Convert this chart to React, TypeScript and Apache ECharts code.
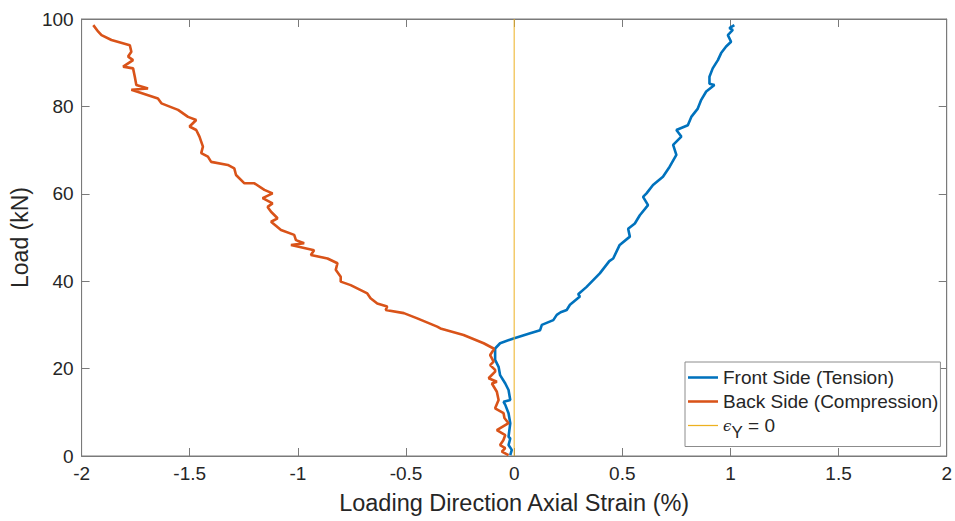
import React, { useEffect, useRef } from "react";
import * as echarts from "echarts";

const frontLoad = [0.2, 1.4, 2.5, 4.0, 4.4, 7.5, 9.8, 11.7, 12.4, 12.8, 15.1, 16.6, 18.5, 20.4, 22.0, 24.6, 25.8, 26.9, 28.1, 28.8, 30.0, 31.1, 32.3, 32.9, 33.4, 34.6, 36.5, 37.0, 38.7, 41.8, 44.6, 45.2, 48.3, 50.2, 52.0, 53.2, 55.1, 57.4, 59.3, 60.1, 62.0, 63.9, 66.2, 68.9, 71.2, 73.1, 74.6, 75.7, 77.6, 79.5, 81.5, 83.4, 84.9, 85.2, 86.8, 88.7, 90.6, 92.2, 93.7, 94.8, 96.3, 97.5, 97.9, 98.6];
const frontStrain = [-0.018, -0.011, -0.026, -0.018, -0.026, -0.018, -0.026, -0.041, -0.049, -0.018, -0.026, -0.041, -0.065, -0.072, -0.088, -0.088, -0.065, -0.003, 0.074, 0.120, 0.128, 0.181, 0.197, 0.215, 0.243, 0.258, 0.304, 0.296, 0.335, 0.396, 0.440, 0.458, 0.488, 0.535, 0.527, 0.558, 0.581, 0.619, 0.596, 0.612, 0.642, 0.688, 0.719, 0.750, 0.735, 0.773, 0.750, 0.803, 0.819, 0.849, 0.865, 0.888, 0.926, 0.903, 0.903, 0.918, 0.942, 0.957, 0.980, 1.003, 0.988, 1.011, 0.995, 1.018];

const backLoad = [0.2, 1.0, 1.8, 2.5, 3.6, 4.8, 5.9, 7.5, 8.7, 9.8, 10.9, 12.8, 14.7, 16.6, 17.0, 17.8, 19.3, 19.7, 20.8, 21.6, 23.1, 24.3, 24.6, 25.8, 27.7, 29.2, 29.6, 31.5, 32.7, 33.4, 34.2, 34.9, 36.1, 37.2, 39.1, 39.9, 41.0, 42.6, 44.1, 45.2, 46.0, 47.1, 48.3, 48.7, 49.4, 50.6, 51.7, 53.6, 54.4, 55.9, 57.0, 57.8, 59.0, 60.1, 60.9, 62.4, 62.4, 64.3, 65.8, 66.6, 67.3, 68.5, 69.3, 70.8, 73.1, 74.6, 75.4, 76.9, 77.6, 79.2, 80.7, 81.8, 83.8, 84.1, 84.9, 86.8, 88.7, 89.1, 90.6, 91.4, 92.5, 94.0, 95.2, 96.3, 97.1, 98.6];
const backStrain = [-0.026, -0.057, -0.041, -0.065, -0.050, -0.041, -0.080, -0.026, -0.045, -0.049, -0.088, -0.072, -0.080, -0.103, -0.080, -0.118, -0.088, -0.088, -0.111, -0.095, -0.111, -0.095, -0.095, -0.141, -0.234, -0.341, -0.356, -0.448, -0.510, -0.594, -0.587, -0.633, -0.664, -0.679, -0.756, -0.802, -0.802, -0.825, -0.817, -0.863, -0.940, -0.925, -1.032, -0.971, -1.009, -1.017, -1.078, -1.124, -1.094, -1.124, -1.140, -1.117, -1.163, -1.117, -1.155, -1.201, -1.247, -1.286, -1.294, -1.324, -1.401, -1.416, -1.447, -1.439, -1.455, -1.470, -1.501, -1.470, -1.508, -1.554, -1.631, -1.647, -1.770, -1.693, -1.747, -1.754, -1.762, -1.808, -1.762, -1.785, -1.770, -1.777, -1.862, -1.908, -1.923, -1.946];

const yieldStrain = [0, 0];
const yieldLoad = [0, 100];

const seriesNames = ["Front Side (Tension)", "Back Side (Compression)", "yield"];
const xTitle = "Loading Direction Axial Strain (%)";
const yTitle = "Load (kN)";

const FONT = "'Liberation Sans', Arial, Helvetica, sans-serif";
const TXT = "#262626";
const AX = "#7a7a7a";

export default function App() {
  const ref = useRef<HTMLDivElement>(null);
  useEffect(() => {
    if (!ref.current) return;
    const chart = echarts.init(ref.current, null, { renderer: "svg" });
    const zip = (xs: number[], ys: number[]) => xs.map((x, i) => [x, ys[i]]);
    const axisCommon = {
      axisLine: { show: true, onZero: false, lineStyle: { color: AX, width: 1 } },
      axisTick: { show: true, inside: true, length: 8, lineStyle: { color: AX } },
      splitLine: { show: false },
    };
    const thick = "path://M0,0L100,0L100,8.5L0,8.5Z";
    const thin = "path://M0,0L100,0L100,4.2L0,4.2Z";
    chart.setOption({
      animation: false,
      backgroundColor: "#ffffff",
      grid: { left: 80, right: 7, top: 19, bottom: 65, containLabel: false, show: true, borderColor: AX, borderWidth: 1, backgroundColor: "transparent" },
      xAxis: [
        {
          type: "value", min: -2, max: 2, interval: 0.5, position: "bottom",
          ...axisCommon,
          axisLabel: { color: TXT, fontFamily: FONT, fontSize: 19, margin: 8 },
          name: xTitle, nameLocation: "middle", nameGap: 35,
          nameTextStyle: { color: TXT, fontFamily: FONT, fontSize: 23.5 },
        },
        {
          type: "value", min: -2, max: 2, interval: 0.5, position: "top", show: true,
          ...axisCommon, axisLabel: { show: false },
        },
      ],
      yAxis: [
        {
          type: "value", min: 0, max: 100, interval: 20, position: "left",
          ...axisCommon,
          axisLabel: { color: TXT, fontFamily: FONT, fontSize: 19, margin: 8 },
          name: yTitle, nameLocation: "middle", nameGap: 46, nameRotate: 90,
          nameTextStyle: { color: TXT, fontFamily: FONT, fontSize: 23 },
        },
        {
          type: "value", min: 0, max: 100, interval: 20, position: "right", show: true,
          ...axisCommon, axisLabel: { show: false },
        },
      ],
      legend: {
        orient: "vertical",
        left: 685, top: 362,
        padding: [6, 2, 6, 3],
        itemGap: 5,
        itemWidth: 30,
        itemHeight: 3,
        symbolKeepAspect: true,
        borderColor: "#8c8c8c",
        borderWidth: 1,
        borderRadius: 0,
        backgroundColor: "#ffffff",
        textStyle: {
          color: TXT, fontFamily: FONT, fontSize: 19,
          rich: {
            e: { fontFamily: "'DejaVu Serif', serif", fontStyle: "italic", fontSize: 15, color: TXT },
            s: { fontFamily: FONT, fontSize: 17, color: TXT, padding: [13, 0, 0, 0] },
            t: { fontFamily: FONT, fontSize: 19, color: TXT },
          },
        },
        formatter: (n: string) => (n === "yield" ? "{e|ϵ}{s|Y}{t| = 0}" : n),
        data: [
          { name: seriesNames[0], icon: thick },
          { name: seriesNames[1], icon: thick },
          { name: seriesNames[2], icon: thin },
        ],
      },
      series: [
        {
          name: seriesNames[0], type: "line", data: zip(frontStrain, frontLoad),
          showSymbol: false, symbol: "none",
          lineStyle: { color: "#0072BD", width: 2.6 }, itemStyle: { color: "#0072BD" },
        },
        {
          name: seriesNames[1], type: "line", data: zip(backStrain, backLoad),
          showSymbol: false, symbol: "none",
          lineStyle: { color: "#D95319", width: 2.6 }, itemStyle: { color: "#D95319" },
        },
        {
          name: seriesNames[2], type: "line", data: zip(yieldStrain, yieldLoad),
          xAxisIndex: 1, yAxisIndex: 1,
          showSymbol: false, symbol: "none",
          lineStyle: { color: "#EDB120", width: 1 }, itemStyle: { color: "#EDB120" },
        },
      ],
    });
    return () => chart.dispose();
  }, []);
  return <div ref={ref} style={{ width: 955, height: 521, position: "absolute", left: 0, top: 0 }} />;
}
